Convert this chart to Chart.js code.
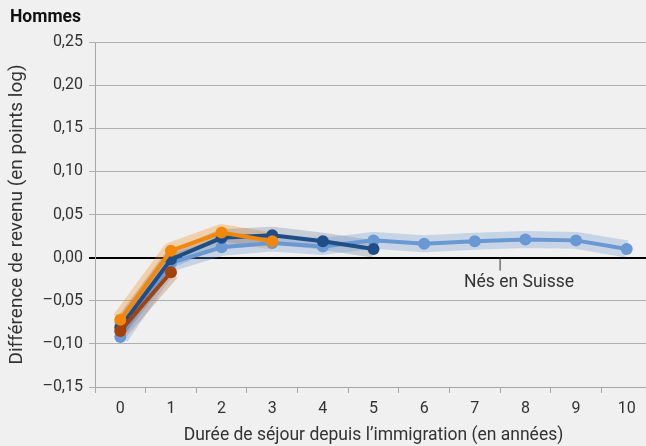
<!DOCTYPE html>
<html>
<head>
<meta charset="utf-8">
<script src="https://cdn.jsdelivr.net/npm/chart.js@4"></script>
<style>
  html, body { margin: 0; padding: 0; background: #f0f0f0; overflow: hidden; }
  #wrap { width: 658px; height: 446px; }
</style>
</head>
<body>
<div id="wrap"><canvas id="myChart" width="658" height="446"></canvas></div>
<script>
const years = ['0', '1', '2', '3', '4', '5', '6', '7', '8', '9', '10'];
const yTicks = [-0.15, -0.10, -0.05, 0, 0.05, 0.10, 0.15, 0.20, 0.25];

// income gap per cohort, by years since arrival
const lightBlue = [-0.092, -0.006, 0.012, 0.017, 0.013, 0.020, 0.016, 0.019, 0.021, 0.020, 0.010];
const darkBlue = [-0.081, -0.002, 0.023, 0.026, 0.019, 0.010];
const orange = [-0.072, 0.008, 0.029, 0.019];
const brown = [-0.085, -0.017];

const refLabel = 'Nés en Suisse';
const refPos = 7.5;

function lineSet(data, color, order) {
  return {
    data: data,
    borderColor: color,
    backgroundColor: color,
    borderWidth: 4,
    pointRadius: 6,
    pointBorderWidth: 0,
    pointBackgroundColor: color,
    tension: 0,
    order: order
  };
}

function bandSet(data, color) {
  return {
    data: data,
    borderColor: color,
    borderWidth: 17,
    pointRadius: 0,
    borderCapStyle: 'butt',
    borderJoinStyle: 'round',
    tension: 0,
    order: 20
  };
}

const extraText = {
  id: 'extraText',
  afterDatasetsDraw(chart) {
    const ctx = chart.ctx;
    const x = chart.scales.x;
    const y = chart.scales.y;
    ctx.save();
    // header
    ctx.fillStyle = '#111';
    ctx.font = 'bold 17.5px Roboto';
    ctx.textBaseline = 'middle';
    ctx.textAlign = 'left';
    ctx.fillText('Hommes', 10, 18);
    // reference note under the zero line
    const px = x.left + (refPos + 0.5) * (x.width / years.length);
    const py = y.getPixelForValue(0);
    ctx.strokeStyle = '#333';
    ctx.lineWidth = 1;
    ctx.beginPath();
    ctx.moveTo(px, py);
    ctx.lineTo(px, py + 13);
    ctx.stroke();
    ctx.fillStyle = '#333';
    ctx.font = '17.5px Roboto';
    ctx.fillText(refLabel, px - 36, py + 25);
    ctx.restore();
  }
};

Chart.defaults.font.family = 'Roboto';
Chart.defaults.font.size = 16;
Chart.defaults.color = '#333';

new Chart(document.getElementById('myChart'), {
  type: 'line',
  data: {
    labels: years,
    datasets: [
      bandSet(lightBlue, 'rgba(104, 150, 210, 0.3)'),
      bandSet(darkBlue, 'rgba(40, 70, 110, 0.2)'),
      bandSet(orange, 'rgba(245, 140, 20, 0.3)'),
      bandSet(brown, 'rgba(170, 70, 10, 0.25)'),
      lineSet(lightBlue, '#6a98d2', 4),
      lineSet(darkBlue, '#1f4e87', 3),
      lineSet(brown, '#a4420a', 2),
      lineSet(orange, '#f2870a', 1)
    ]
  },
  options: {
    responsive: false,
    animation: false,
    layout: {
      padding: { top: 42, right: 2, bottom: 0, left: 0 }
    },
    plugins: {
      legend: { display: false },
      tooltip: { enabled: false }
    },
    scales: {
      x: {
        offset: true,
        grid: {
          offset: true,
          drawOnChartArea: false,
          drawTicks: true,
          tickLength: 6,
          color: '#a8a8a8'
        },
        border: { color: '#a8a8a8', width: 1 },
        ticks: { padding: 6, color: '#333' },
        title: {
          display: true,
          text: 'Durée de séjour depuis l’immigration (en années)',
          color: '#333',
          font: { size: 17.5 },
          padding: { top: 0, bottom: 0 }
        },
        afterFit: (s) => { s.height = 59; }
      },
      y: {
        min: -0.15,
        max: 0.25,
        afterBuildTicks: (s) => { s.ticks = yTicks.map(v => ({ value: v })); },
        grid: {
          tickLength: 6,
          color: (c) => c.tick && Math.abs(c.tick.value) < 1e-9 ? '#000' : '#b0b0b0',
          lineWidth: (c) => c.tick && Math.abs(c.tick.value) < 1e-9 ? 2 : 1
        },
        border: { color: '#a8a8a8', width: 1 },
        ticks: {
          padding: 6,
          color: '#333',
          callback: (v) => (v < -1e-9 ? '–' : '') + Math.abs(v).toFixed(2).replace('.', ',')
        },
        title: {
          display: true,
          text: 'Différence de revenu (en points log)',
          color: '#333',
          font: { size: 19 },
          padding: { top: 6, bottom: 0 }
        },
        afterFit: (s) => { s.width = 95; }
      }
    }
  },
  plugins: [extraText]
});
</script>
</body>
</html>
